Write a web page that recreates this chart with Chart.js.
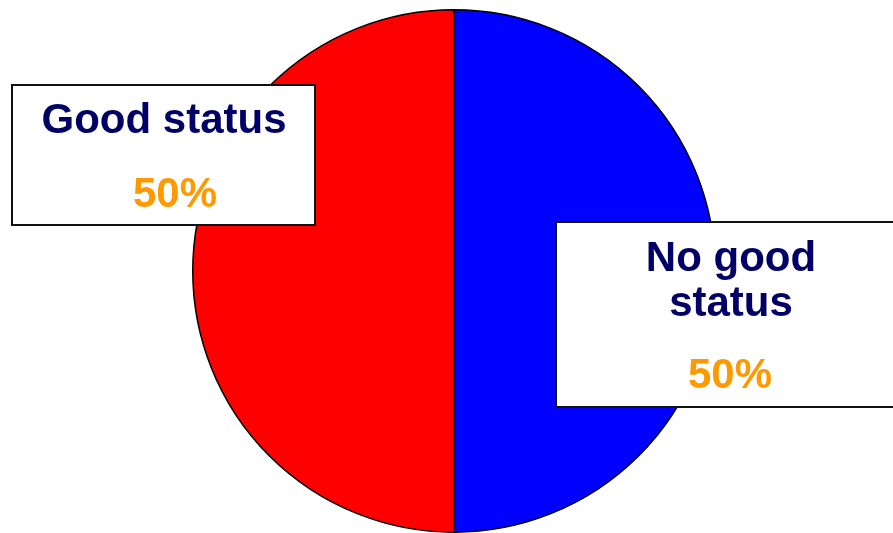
<!DOCTYPE html>
<html>
<head>
<meta charset="utf-8">
<script src="https://cdn.jsdelivr.net/npm/chart.js@4/dist/chart.umd.min.js"></script>
<style>
  html, body { margin: 0; padding: 0; background: #fff; }
  #wrap { width: 893px; height: 533px; }
</style>
</head>
<body>
<div id="wrap"><canvas id="statusChart"></canvas></div>
<script>
const categories = ["Good status", "No good status"];
const shares = [50, 50];
const sliceColors = ["#ff0000", "#0000ff"];

// label boxes: title lines + percentage, one per category
const boxes = [
  { x: 12, y: 85, w: 303, h: 140, lines: [{ t: categories[0], cx: 164, y: 133 }], pctX: 175, pctY: 207 },
  { x: 556, y: 222, w: 345, h: 185, lines: [{ t: "No good", cx: 731, y: 271 }, { t: "status", cx: 731, y: 316 }], pctX: 730, pctY: 388 },
];

const labelBoxes = {
  id: "labelBoxes",
  afterDraw(chart) {
    const ctx = chart.ctx;
    ctx.save();
    boxes.forEach((b, i) => {
      ctx.fillStyle = "#ffffff";
      ctx.fillRect(b.x, b.y, b.w, b.h);
      ctx.lineWidth = 2;
      ctx.strokeStyle = "#111";
      ctx.strokeRect(b.x, b.y, b.w, b.h);
      ctx.font = "bold 42px 'Liberation Sans', Arial, sans-serif";
      ctx.textAlign = "center";
      ctx.textBaseline = "alphabetic";
      ctx.fillStyle = "#000066";
      b.lines.forEach((l) => ctx.fillText(l.t, l.cx, l.y));
      ctx.fillStyle = "#ff9900";
      ctx.fillText(shares[i] + "%", b.pctX, b.pctY);
    });
    ctx.restore();
  },
};

new Chart(document.getElementById("statusChart"), {
  type: "pie",
  data: {
    labels: categories,
    datasets: [
      {
        data: shares,
        backgroundColor: sliceColors,
        borderColor: "#000",
        borderWidth: 1.5,
      },
    ],
  },
  options: {
    responsive: true,
    maintainAspectRatio: false,
    animation: false,
    rotation: 180,
    layout: { padding: { top: 9, bottom: -2, left: 191, right: 176 } },
    plugins: {
      legend: { display: false },
      tooltip: { enabled: false },
    },
  },
  plugins: [labelBoxes],
});
</script>
</body>
</html>
